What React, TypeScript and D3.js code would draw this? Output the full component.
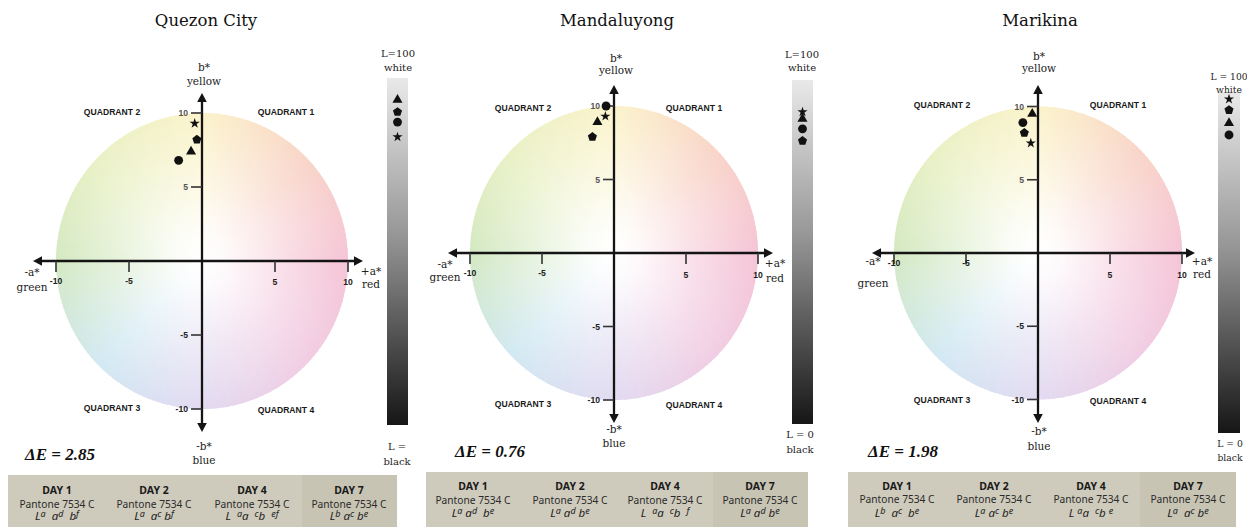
import React from "react";
import * as d3 from "d3";

// ---- data -------------------------------------------------------------
const cities = ["Quezon City", "Mandaluyong", "Marikina"];
const deltaE = ["2.85", "0.76", "1.98"];
const days = ["DAY 1", "DAY 2", "DAY 4", "DAY 7"];
const pantone = "Pantone 7534 C";
const markerShapes = ["circle", "triangle", "pentagon", "star"];

// CIELAB readings per city, one entry per marker shape (circle, triangle, pentagon, star)
const aStar = [
  [-1.6, -0.75, -0.35, -0.5],
  [-0.55, -1.15, -1.5, -0.6],
  [-1.05, -0.4, -0.95, -0.5],
];
const bStar = [
  [6.8, 7.4, 8.2, 9.3],
  [10.0, 8.9, 7.9, 9.3],
  [8.9, 9.5, 8.2, 7.5],
];
const lStar = [
  [87.3, 93.7, 90.2, 83.0],
  [85.8, 88.7, 82.3, 90.7],
  [87.4, 90.9, 94.7, 97.9],
];

const axisTicks = [-10, -5, 5, 10];
const quadrantNames = ["QUADRANT 1", "QUADRANT 2", "QUADRANT 3", "QUADRANT 4"];
const lightTopLabel = ["L=100", "L=100", "L = 100"];
const lightBottomLabel = ["L =", "L = 0", "L = 0"];

// significance letters per city and day; ^{..} marks a superscript
const letterGroups = [
  ["L^{a}  a^{d}  b^{f}", "L^{a}  a^{c} b^{f}", "L  ^{a}a  ^{c}b  ^{ef}", "L^{b} a^{c} b^{e}"],
  ["L^{a} a^{d}  b^{e}", "L^{a} a^{d} b^{e}", "L  ^{a}a  ^{c}b  ^{f}", "L^{a} a^{d} b^{e}"],
  ["L^{b}  a^{c}  b^{e}", "L^{a} a^{c} b^{e}", "L ^{a}a  ^{c}b ^{e}", "L^{a}  a^{c} b^{e}"],
];

// hue ring of the a*-b* plane (angle in degrees from +a*, counter-clockwise)
const hueAngles = [0, 45, 90, 135, 180, 225, 270, 315, 360];
const hueColors = [
  "#f5c4d6", "#f9d5c8", "#fbf3cb", "#eaf1c5", "#d3e9c2",
  "#d2e9f3", "#e2daf1", "#f1cde3", "#f5c4d6",
];

// ---- layout -------------------------------------------------------------
type Layout = {
  cx: number; cy: number; kx: number; ky: number;
  axL: number; axR: number; axT: number; axB: number;
  title: [number, number];
  bPos: [number, number, number];
  aNeg: [number, number, number];
  aPos: [number, number, number];
  bNeg: [number, number, number];
  quads: [number, number][];
  tickYNeg: number; tickYPos: number;
  dE: [number, number];
  bar: { x: number; w: number; top: number; bottom: number };
  lTop: [number, number, number];
  lBot: [number, number, number];
  table: { x: number; y: number; w: number; col4: number; cols: number[]; rows: number[] };
};

const layouts: Layout[] = [
  {
    cx: 202, cy: 261, kx: 14.6, ky: 14.8,
    axL: 33, axR: 363, axT: 93, axB: 432,
    title: [206, 26],
    bPos: [204, 71, 85],
    aNeg: [32, 276, 291],
    aPos: [371, 275, 288],
    bNeg: [204, 450, 464],
    quads: [[286, 115], [112, 115], [112, 411], [286, 413]],
    tickYNeg: 284, tickYPos: 285,
    dE: [25, 460],
    bar: { x: 387, w: 21, top: 78, bottom: 425 },
    lTop: [398, 57, 71],
    lBot: [397, 450, 465],
    table: { x: 8, y: 475, w: 389, col4: 302, cols: [57, 154, 252, 349], rows: [494, 508, 520] },
  },
  {
    cx: 614, cy: 253, kx: 14.4, ky: 14.7,
    axL: 448, axR: 773, axT: 85, axB: 423,
    title: [617, 26],
    bPos: [616, 62, 74],
    aNeg: [445, 268, 281],
    aPos: [775, 267, 282],
    bNeg: [614, 433, 447],
    quads: [[694, 111], [523, 111], [523, 407], [694, 408]],
    tickYNeg: 276, tickYPos: 278,
    dE: [455, 457],
    bar: { x: 792, w: 21, top: 80, bottom: 424 },
    lTop: [802, 58, 71],
    lBot: [800, 438, 453],
    table: { x: 426, y: 472, w: 382, col4: 713, cols: [473, 570, 665, 760], rows: [490, 504, 517] },
  },
  {
    cx: 1038, cy: 253, kx: 14.4, ky: 14.65,
    axL: 872, axR: 1195, axT: 85, axB: 423,
    title: [1040, 26],
    bPos: [1039, 60, 72],
    aNeg: [873, 265, 287],
    aPos: [1202, 265, 278],
    bNeg: [1039, 435, 450],
    quads: [[1118, 108], [942, 108], [942, 403], [1118, 404]],
    tickYNeg: 266, tickYPos: 278,
    dE: [868, 457],
    bar: { x: 1218, w: 22, top: 92, bottom: 433 },
    lTop: [1229, 80, 93],
    lBot: [1230, 447, 461],
    table: { x: 848, y: 472, w: 388, col4: 1140, cols: [897, 994, 1091, 1188], rows: [490, 503, 517] },
  },
];

const SERIF = "'DejaVu Serif', serif";
const SANS = "'Liberation Sans', Arial, sans-serif";
const TABLE_SANS = "'Noto Sans', 'Open Sans', sans-serif";
const INK = "#141414";

// regular pentagon with the same area convention as d3's symbols
const symbolPentagon: d3.SymbolType = {
  draw(ctx, size) {
    const r = Math.sqrt(size / 2.3776);
    for (let i = 0; i < 5; i++) {
      const ang = -Math.PI / 2 + (i * 2 * Math.PI) / 5;
      const px = r * Math.cos(ang);
      const py = r * Math.sin(ang);
      if (i === 0) ctx.moveTo(px, py);
      else ctx.lineTo(px, py);
    }
    ctx.closePath();
  },
};

const symbolTypes: Record<string, d3.SymbolType> = {
  circle: d3.symbolCircle,
  triangle: d3.symbolTriangle,
  pentagon: symbolPentagon,
  star: d3.symbolStar,
};
const symbolSizes: Record<string, number> = { circle: 62, triangle: 44, pentagon: 54, star: 32 };

function markerPath(shape: string) {
  return d3.symbol().type(symbolTypes[shape]).size(symbolSizes[shape])() || "";
}

const hueScale = d3
  .scaleLinear<string>()
  .domain(hueAngles)
  .range(hueColors)
  .interpolate(d3.interpolateRgb);

function ColorDisk({ cx, cy, rx, ry, gid }: { cx: number; cy: number; rx: number; ry: number; gid: string }) {
  const n = 180;
  const arc = d3.arc<any>();
  const step = 360 / n;
  const wedges = d3.range(n).map((i) => {
    const t0 = i * step;
    const t1 = t0 + step + 0.8;
    const d = arc({
      innerRadius: 0,
      outerRadius: rx,
      startAngle: ((90 - t1) * Math.PI) / 180,
      endAngle: ((90 - t0) * Math.PI) / 180,
    }) as string;
    return { d, c: hueScale(t0 + step / 2) };
  });
  return (
    <g>
      <g transform={`translate(${cx},${cy}) scale(1,${ry / rx})`}>
        {wedges.map((w, i) => (
          <path key={i} d={w.d} fill={w.c} />
        ))}
      </g>
      <ellipse cx={cx} cy={cy} rx={rx + 0.5} ry={ry + 0.5} fill={`url(#${gid})`} />
    </g>
  );
}

function SupText({ x, y, text, size }: { x: number; y: number; text: string; size: number }) {
  const parts = text.split(/(\^\{[^}]*\})/).filter((s) => s.length > 0);
  let offset = 0;
  const rise = 3.5;
  return (
    <text
      x={x}
      y={y}
      textAnchor="middle"
      fontFamily={TABLE_SANS}
      fontStyle="italic"
      fontSize={size}
      fill="#222"
      style={{ whiteSpace: "pre" }}
    >
      {parts.map((p, i) => {
        if (p.startsWith("^{")) {
          const dy = -rise - offset;
          offset = -rise;
          return (
            <tspan key={i} dy={dy} fontSize={size * 0.78}>
              {p.slice(2, -1)}
            </tspan>
          );
        }
        const dy = -offset;
        offset = 0;
        return (
          <tspan key={i} dy={dy}>
            {p}
          </tspan>
        );
      })}
    </text>
  );
}

function Arrow({ x, y, dir }: { x: number; y: number; dir: "up" | "down" | "left" | "right" }) {
  const L = 9;
  const H = 4.8;
  let pts = "";
  if (dir === "up") pts = `${x},${y} ${x - H},${y + L} ${x + H},${y + L}`;
  if (dir === "down") pts = `${x},${y} ${x - H},${y - L} ${x + H},${y - L}`;
  if (dir === "left") pts = `${x},${y} ${x + L},${y - H} ${x + L},${y + H}`;
  if (dir === "right") pts = `${x},${y} ${x - L},${y - H} ${x - L},${y + H}`;
  return <polygon points={pts} fill={INK} />;
}

function Panel({ idx }: { idx: number }) {
  const lay = layouts[idx];
  const x = d3.scaleLinear().domain([-10, 10]).range([lay.cx - 10 * lay.kx, lay.cx + 10 * lay.kx]);
  const y = d3.scaleLinear().domain([-10, 10]).range([lay.cy + 10 * lay.ky, lay.cy - 10 * lay.ky]);
  const lScale = d3.scaleLinear().domain([0, 100]).range([lay.bar.bottom, lay.bar.top]);
  const x0 = x(0);
  const y0 = y(0);
  const barCx = lay.bar.x + lay.bar.w / 2;
  const t = lay.table;
  const gid = `disk-fade-${idx}`;
  const lid = `light-bar-${idx}`;

  return (
    <g>
      <defs>
        <radialGradient id={gid}>
          <stop offset="0%" stopColor="#fff" stopOpacity={1} />
          <stop offset="18%" stopColor="#fff" stopOpacity={0.88} />
          <stop offset="60%" stopColor="#fff" stopOpacity={0.4} />
          <stop offset="100%" stopColor="#fff" stopOpacity={0} />
        </radialGradient>
        <linearGradient id={lid} x1="0" y1="0" x2="0" y2="1">
          <stop offset="0%" stopColor="#e9e9e9" />
          <stop offset="45%" stopColor="#979797" />
          <stop offset="100%" stopColor="#161616" />
        </linearGradient>
      </defs>

      {/* title */}
      <text x={lay.title[0]} y={lay.title[1]} textAnchor="middle" fontFamily={SERIF} fontSize={16.5} fill="#111">
        {cities[idx]}
      </text>

      {/* colour disk of the a-b plane */}
      <ColorDisk cx={x0} cy={y0} rx={x(10) - x0} ry={y0 - y(10)} gid={gid} />

      {/* quadrant names */}
      {quadrantNames.map((q, i) => (
        <text
          key={q}
          x={lay.quads[i][0]}
          y={lay.quads[i][1]}
          textAnchor="middle"
          fontFamily={SANS}
          fontWeight="bold"
          fontSize={8.6}
          fill="#1a1a1a"
        >
          {q}
        </text>
      ))}

      {/* axes */}
      <line x1={lay.axL + 4} x2={lay.axR - 4} y1={y0} y2={y0} stroke={INK} strokeWidth={2.3} />
      <line x1={x0} x2={x0} y1={lay.axT + 4} y2={lay.axB - 4} stroke={INK} strokeWidth={2.3} />
      <Arrow x={lay.axL} y={y0} dir="left" />
      <Arrow x={lay.axR} y={y0} dir="right" />
      <Arrow x={x0} y={lay.axT} dir="up" />
      <Arrow x={x0} y={lay.axB} dir="down" />

      {/* horizontal ticks */}
      {axisTicks.map((v) => (
        <g key={`xt${v}`}>
          <line x1={x(v)} x2={x(v)} y1={y0} y2={y0 + 11} stroke="#333" strokeWidth={1.6} />
          <text
            x={x(v)}
            y={v < 0 ? lay.tickYNeg : lay.tickYPos}
            textAnchor="middle"
            fontFamily={SANS}
            fontWeight="bold"
            fontSize={8.6}
            fill="#222"
          >
            {v}
          </text>
        </g>
      ))}

      {/* vertical ticks */}
      {axisTicks.map((v) => (
        <g key={`yt${v}`}>
          <line x1={x0 - 11} x2={x0} y1={y(v)} y2={y(v)} stroke="#333" strokeWidth={1.6} />
          <text
            x={x0 - 14}
            y={y(v)}
            dy="0.35em"
            textAnchor="end"
            fontFamily={SANS}
            fontWeight="bold"
            fontSize={8.6}
            fill={v > 0 ? "#555" : "#222"}
          >
            {v}
          </text>
        </g>
      ))}

      {/* axis names */}
      <g fontFamily={SERIF} fontSize={10.5} fill="#222" textAnchor="middle">
        <text x={lay.bPos[0]} y={lay.bPos[1]}>b*</text>
        <text x={lay.bPos[0]} y={lay.bPos[2]}>yellow</text>
        <text x={lay.aNeg[0]} y={lay.aNeg[1]}>-a*</text>
        <text x={lay.aNeg[0]} y={lay.aNeg[2]}>green</text>
        <text x={lay.aPos[0]} y={lay.aPos[1]}>+a*</text>
        <text x={lay.aPos[0]} y={lay.aPos[2]}>red</text>
        <text x={lay.bNeg[0]} y={lay.bNeg[1]}>-b*</text>
        <text x={lay.bNeg[0]} y={lay.bNeg[2]}>blue</text>
      </g>

      {/* a and b readings */}
      {markerShapes.map((s, i) => (
        <path
          key={`m${s}`}
          d={markerPath(s)}
          transform={`translate(${x(aStar[idx][i])},${y(bStar[idx][i])})`}
          fill="#111"
        />
      ))}

      {/* lightness bar */}
      <rect
        x={lay.bar.x}
        y={lay.bar.top}
        width={lay.bar.w}
        height={lay.bar.bottom - lay.bar.top}
        fill={`url(#${lid})`}
      />
      {markerShapes.map((s, i) => (
        <path
          key={`l${s}`}
          d={markerPath(s)}
          transform={`translate(${barCx},${lScale(lStar[idx][i])})`}
          fill="#111"
        />
      ))}
      <g fontFamily={SERIF} fontSize={idx === 2 ? 9.2 : 10} fill="#222" textAnchor="middle">
        <text x={lay.lTop[0]} y={lay.lTop[1]}>{lightTopLabel[idx]}</text>
        <text x={lay.lTop[0]} y={lay.lTop[2]}>white</text>
        <text x={lay.lBot[0]} y={lay.lBot[1]}>{lightBottomLabel[idx]}</text>
        <text x={lay.lBot[0]} y={lay.lBot[2]}>black</text>
      </g>

      {/* colour difference */}
      <text
        x={lay.dE[0]}
        y={lay.dE[1]}
        fontFamily="'Liberation Serif', 'Times New Roman', serif"
        fontWeight="bold"
        fontStyle="italic"
        fontSize={17}
        fill="#111"
      >
        {`ΔE = ${deltaE[idx]}`}
      </text>

      {/* day summary table */}
      <rect x={t.x} y={t.y} width={t.w} height={60} fill="#cfcbbc" />
      <rect x={t.col4} y={t.y} width={t.x + t.w - t.col4} height={60} fill="#c8c4b4" />
      {days.map((dname, j) => (
        <g key={dname}>
          <text
            x={t.cols[j]}
            y={t.rows[0]}
            textAnchor="middle"
            fontFamily={TABLE_SANS}
            fontWeight="bold"
            fontSize={10.5}
            fill="#1a1a1a"
          >
            {dname}
          </text>
          <text
            x={t.cols[j]}
            y={t.rows[1]}
            textAnchor="middle"
            fontFamily={TABLE_SANS}
            fontSize={10.2}
            fill="#2a2a2a"
          >
            {pantone}
          </text>
          <SupText x={t.cols[j]} y={t.rows[2]} text={letterGroups[idx][j]} size={11.5} />
        </g>
      ))}
    </g>
  );
}

export default function App() {
  return (
    <svg
      width={1247}
      height={527}
      viewBox="0 0 1247 527"
      style={{ position: "absolute", left: 0, top: 0, background: "#fff" }}
    >
      <rect width={1247} height={527} fill="#fff" />
      {cities.map((c, i) => (
        <Panel key={c} idx={i} />
      ))}
    </svg>
  );
}
